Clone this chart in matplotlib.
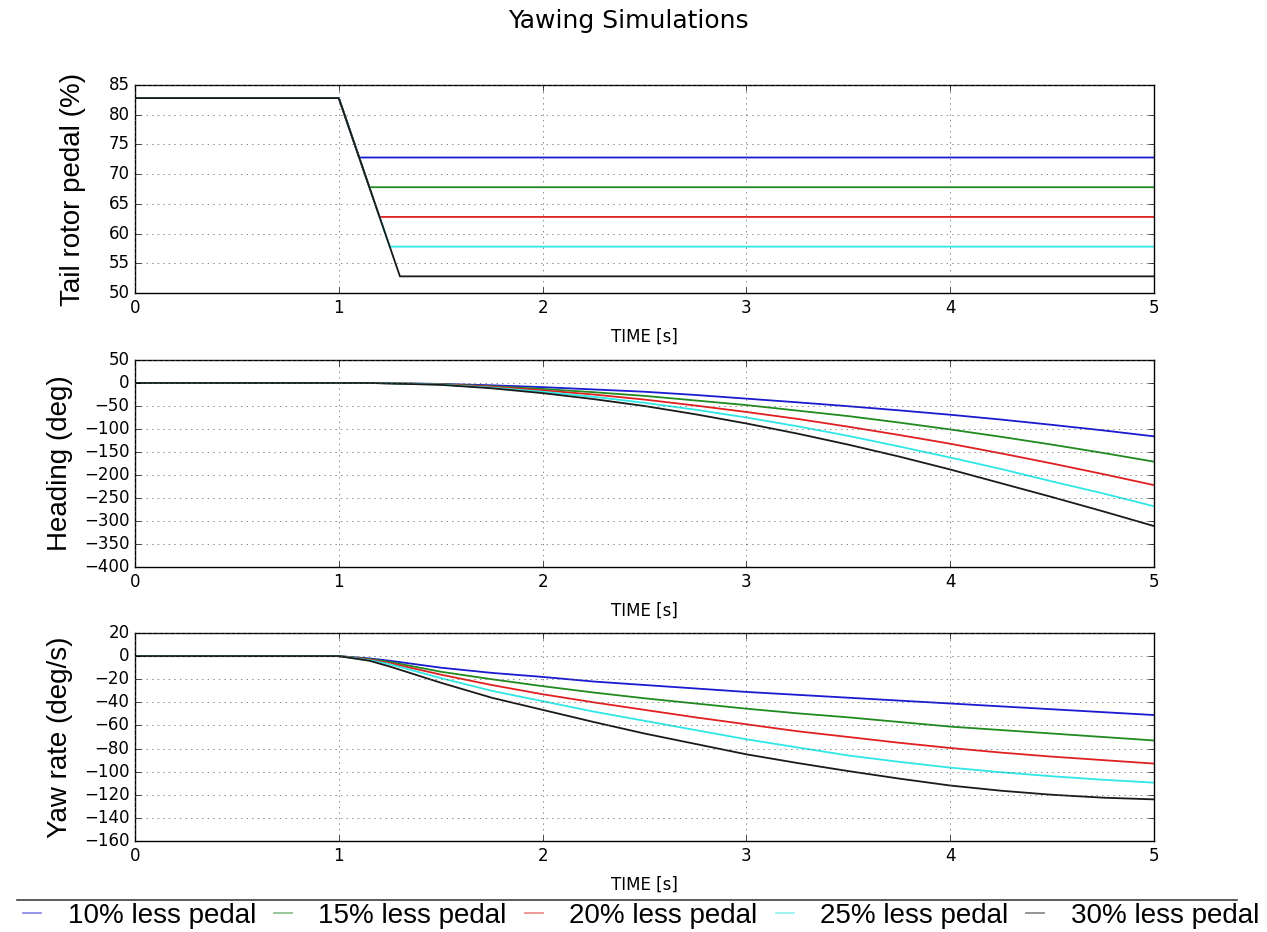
import matplotlib
matplotlib.use("Agg")
import matplotlib.pyplot as plt
from matplotlib.lines import Line2D

plt.style.use("classic")
plt.rcParams["figure.facecolor"] = "white"
plt.rcParams["savefig.facecolor"] = "white"
plt.rcParams["font.family"] = ["DejaVu Sans"]

labels = ["10% less pedal", "15% less pedal", "20% less pedal", "25% less pedal", "30% less pedal"]
colors = ["#1a1ad0", "#208a20", "#e02020", "#30e6e6", "#1a1a1a"]

# tail rotor pedal (%) - step down between t=1 and the end of the ramp
pedal_start = 82.8
pedal_target = [72.8, 67.8, 62.8, 57.8, 52.8]
ramp_end = [1.1, 1.15, 1.2, 1.25, 1.3]

t = [0, 1, 1.15, 1.25, 1.5, 1.75, 2, 2.25, 2.5, 2.75, 3, 3.25, 3.5, 3.75, 4, 4.25, 4.5, 4.75, 5]

heading_10 = [0, 0, 0, -0.5, -2, -5, -9, -14, -19, -26, -34, -42, -50.5, -59.5, -69, -79.5, -91, -103, -116]
heading_15 = [0, 0, 0, -0.5, -2.5, -7, -13, -20, -28, -38, -48, -60, -72, -86, -101, -117, -134, -152, -171]
heading_20 = [0, 0, 0, -0.5, -3, -8, -16, -25, -36, -49, -63, -78, -95, -113, -132, -153, -175, -198, -222]
heading_25 = [0, 0, 0, -0.5, -3.5, -10, -19, -30, -43, -58, -75, -94, -115, -138, -162, -187, -214, -240, -268]
heading_30 = [0, 0, 0, -1, -4, -11.5, -22, -35, -50, -68, -88, -110, -134, -160, -188, -218, -248, -279, -311]

yaw_10 = [0, 0, -2, -4, -10, -14.5, -18, -22, -25, -28, -31, -33.5, -36, -38.5, -41, -43.5, -46, -48.5, -51]
yaw_15 = [0, 0, -2.5, -5, -13.5, -20, -26, -31.5, -36.5, -41, -45.5, -49.5, -53, -57, -61, -64, -67, -70, -73]
yaw_20 = [0, 0, -3, -6, -16, -25, -33, -40, -46.5, -53, -59, -65, -70, -75, -79.5, -83.5, -87, -90, -93]
yaw_25 = [0, 0, -3.5, -7, -19, -30, -39, -48, -56, -64, -72, -79, -86, -91.5, -96.5, -100.5, -104, -107, -109.5]
yaw_30 = [0, 0, -4, -9, -23, -36, -46.5, -57, -67, -76, -85, -92.5, -99.5, -106, -112, -116.5, -120, -122.5, -124]

headings = [heading_10, heading_15, heading_20, heading_25, heading_30]
yaws = [yaw_10, yaw_15, yaw_20, yaw_25, yaw_30]

W, H = 1267, 932
fig = plt.figure(figsize=(W / 100, H / 100), dpi=100)

def box(top, bottom):
    return [135 / W, 1 - bottom / H, 1019 / W, (bottom - top) / H]

ax1 = fig.add_axes(box(85, 293))
ax2 = fig.add_axes(box(360, 567))
ax3 = fig.add_axes(box(633, 841))

lab_font = dict(family="Liberation Sans", size=20)

for i in range(5):
    ax1.plot([0, 1, ramp_end[i], 5], [pedal_start, pedal_start, pedal_target[i], pedal_target[i]],
             color=colors[i], lw=1.3)
    ax2.plot(t, headings[i], color=colors[i], lw=1.3)
    ax3.plot(t, yaws[i], color=colors[i], lw=1.3)

ax1.set_ylim(50, 85)
ax1.set_yticks(range(50, 86, 5))
ax1.set_ylabel("Tail rotor pedal (%)", fontdict=lab_font)
ax1.yaxis.set_label_coords(-0.048, 0.5)

ax2.set_ylim(-400, 50)
ax2.set_yticks(range(-400, 51, 50))
ax2.set_ylabel("Heading (deg)", fontdict=lab_font)
ax2.yaxis.set_label_coords(-0.061, 0.5)

ax3.set_ylim(-160, 20)
ax3.set_yticks(range(-160, 21, 20))
ax3.set_ylabel("Yaw rate (deg/s)", fontdict=lab_font)
ax3.yaxis.set_label_coords(-0.061, 0.5)

for ax in [ax1, ax2, ax3]:
    ax.set_xlim(0, 5)
    ax.set_xticks(range(0, 6))
    ax.set_xlabel("TIME [s]", fontsize=12, labelpad=8)
    ax.grid(True, color="0.35")
    ax.tick_params(labelsize=12)

fig.text(628 / W, 1 - 21 / H, "Yawing Simulations", ha="center", va="center", fontsize=18)

# legend below the plots, with the rule above it
fig.add_artist(Line2D([17 / W, 1237 / W], [1 - 900 / H, 1 - 900 / H], color="0.25", lw=1.2))
handles = [Line2D([0, 1], [0, 0], color=c, lw=1.3, alpha=0.5) for c in colors]
fig.legend(handles, labels, loc="center", bbox_to_anchor=(637 / W, 1 - 916 / H), ncol=5,
           frameon=False, prop=dict(family="Liberation Sans", size=20),
           handlelength=1.25, handletextpad=0.65, columnspacing=0.35, borderaxespad=0,
           borderpad=0)

fig.savefig("out.png", dpi=100)
